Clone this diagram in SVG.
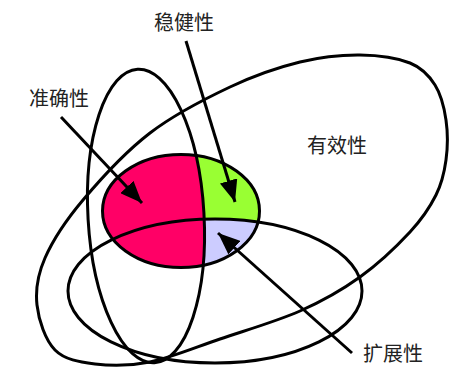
<svg xmlns="http://www.w3.org/2000/svg" width="449" height="367" viewBox="0 0 449 367">
<style>
.ln{fill:none;stroke:#000;stroke-width:3}
.lbl{font-family:"Noto Sans CJK SC","Noto Sans",sans-serif;font-size:20px;fill:#222;text-anchor:middle}
.arr{fill:none;stroke:#000;stroke-width:3;marker-end:url(#ah)}
</style>
<defs>
<marker id="ah" markerUnits="userSpaceOnUse" markerWidth="24" markerHeight="18" refX="22" refY="9" orient="auto">
<path d="M0,0 L22,9 L0,18 Z" fill="#000"/>
</marker>
<clipPath id="core"><ellipse cx="181" cy="211" rx="78.5" ry="56.5"/></clipPath>
</defs>
<g id="core-fill" clip-path="url(#core)">
<rect x="90" y="140" width="190" height="140" fill="#99FF33"/>
<ellipse cx="215" cy="291" rx="147" ry="72" fill="#CCCCFF"/>
<ellipse cx="146" cy="216" rx="58" ry="147" transform="rotate(-3.3 146 216)" fill="#FF0066"/>
</g>
<g id="core"><ellipse class="ln" cx="181" cy="211" rx="78.5" ry="56.5"/></g>
<g id="tall"><ellipse class="ln" cx="146" cy="216" rx="58" ry="147" transform="rotate(-3.3 146 216)"/></g>
<g id="bottom"><ellipse class="ln" cx="215" cy="291" rx="147" ry="72"/></g>
<g id="big"><path class="ln" d="M37,305 C35.3,289.7 37.3,275.5 45,258 C52.7,240.5 65.5,220.8 83,200 C100.5,179.2 125.5,151.8 150,133 C174.5,114.2 205,98.8 230,87 C255,75.2 278.3,67.3 300,62 C321.7,56.7 341.7,54.8 360,55 C378.3,55.2 397.5,58 410,63 C422.5,68 429,75.5 435,85 C441,94.5 444.2,107.5 446,120 C447.8,132.5 447.7,147.5 446,160 C444.3,172.5 442,183 436,195 C430,207 422.7,218.3 410,232 C397.3,245.7 378.3,263.8 360,277 C341.7,290.2 323.3,300.7 300,311 C276.7,321.3 245,330.5 220,339 C195,347.5 170.8,357.8 150,362 C129.2,366.2 110.8,366 95,364 C79.2,362 64.7,359.8 55,350 C45.3,340.2 38.7,320.3 37,305 Z"/></g>
<g id="connectors">
<line class="arr" x1="61" y1="117" x2="142" y2="203"/>
<line class="arr" x1="186" y1="41" x2="235" y2="202"/>
<line class="arr" x1="352" y1="353" x2="218" y2="233"/>
</g>
<g id="labels">
<text class="lbl" x="184" y="30">稳健性</text>
<text class="lbl" x="59" y="106">准确性</text>
<text class="lbl" x="337" y="153">有效性</text>
<text class="lbl" x="393" y="361">扩展性</text>
</g>
</svg>
